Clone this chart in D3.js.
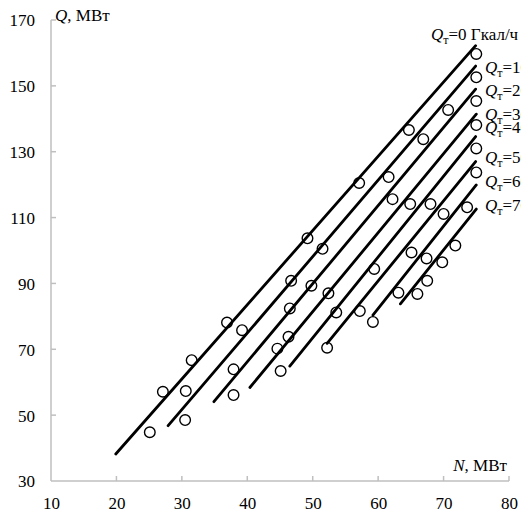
<!DOCTYPE html>
<html>
<head>
<meta charset="utf-8">
<script src="https://cdn.jsdelivr.net/npm/d3@7"></script>
<style>
  html, body { margin: 0; padding: 0; background: #fff; }
  svg { display: block; }
  text { font-family: "Liberation Serif", "Times New Roman", serif; fill: #000; }
</style>
</head>
<body>
<svg id="chart" width="521" height="514"></svg>
<script>
// ---- Data ----
const xTicks = [10, 20, 30, 40, 50, 60, 70, 80];
const yTicks = [30, 50, 70, 90, 110, 130, 150, 170];

// heat load labels (Gcal/h)
const heatLoads = [0, 10, 20, 30, 40, 50, 60, 70];

// straight characteristic lines: start (N, Q) and end (N, Q)
const lineStartN = [19.9, 27.9, 34.9, 40.4, 46.5, 52.2, 59.2, 63.4];
const lineStartQ = [38.2, 46.8, 54.1, 58.4, 64.9, 71.8, 80.4, 83.8];
const lineEndN   = [74.9, 74.9, 74.9, 75.0, 74.9, 74.9, 75.0, 75.0];
const lineEndQ   = [162.2, 156.0, 149.0, 141.4, 134.6, 127.0, 119.9, 112.6];

// label vertical positions (in Q units) for series labels at right
const labelQ = [165.7, 155.7, 148.7, 141.4, 137.4, 128.4, 121.1, 113.8];

// measured points
const pointN = [25.1, 27.1, 30.6, 30.5, 31.5, 36.9, 39.2, 37.9, 37.9,
                46.7, 49.2, 51.5, 49.8, 46.5, 46.3, 44.6, 45.1,
                52.4, 53.6, 52.2, 57.1, 57.2, 59.4, 59.2,
                61.6, 62.2, 64.9, 68.0, 70.0, 73.6,
                64.7, 66.9, 70.7,
                75.0, 75.0, 75.0, 75.0, 75.0, 75.0,
                65.1, 67.4, 69.8, 71.8, 67.5, 63.1, 66.0];
const pointQ = [44.8, 57.1, 57.3, 48.5, 66.7, 78.1, 75.8, 63.9, 56.1,
                90.8, 103.7, 100.5, 89.3, 82.4, 73.8, 70.2, 63.4,
                87.0, 81.2, 70.5, 120.5, 81.6, 94.4, 78.3,
                122.3, 115.6, 114.1, 114.1, 111.1, 113.1,
                136.6, 133.8, 142.7,
                159.7, 152.6, 145.4, 138.1, 131.0, 123.7,
                99.4, 97.6, 96.4, 101.5, 90.8, 87.2, 86.8];

// ---- Layout ----
const svg = d3.select("#chart");
const mLeft = 51, mRight = 509, mTop = 20, mBottom = 481;
const x = d3.scaleLinear().domain([10, 80]).range([mLeft, mRight]);
const y = d3.scaleLinear().domain([30, 170]).range([mBottom, mTop]);
const axisColor = "#bfbfbf";

// axes
const xAxis = d3.axisBottom(x).tickValues(xTicks).tickSize(0).tickFormat(d3.format("d"));
const gx = svg.append("g").attr("transform", `translate(0,${mBottom})`).call(xAxis);
gx.select(".domain").remove();
gx.selectAll("text").attr("font-size", 17).attr("dy", null).attr("y", 28)
  .attr("font-family", "Liberation Serif, serif");

const yAxis = d3.axisLeft(y).tickValues(yTicks).tickSize(0).tickFormat(d3.format("d"));
const gy = svg.append("g").attr("transform", `translate(${mLeft},0)`).call(yAxis);
gy.select(".domain").remove();
gy.selectAll("text").attr("font-size", 17).attr("x", -16).attr("dy", "0.35em")
  .attr("font-family", "Liberation Serif, serif");

// axis lines + inward ticks
svg.append("line").attr("x1", mLeft).attr("x2", mLeft).attr("y1", y(170)).attr("y2", y(30))
  .attr("stroke", axisColor).attr("stroke-width", 1.5);
svg.append("line").attr("x1", mLeft).attr("x2", x(80)).attr("y1", y(30)).attr("y2", y(30))
  .attr("stroke", axisColor).attr("stroke-width", 1.5);
svg.append("g").selectAll("line").data(yTicks.slice(1)).join("line")
  .attr("x1", mLeft).attr("x2", mLeft + 5).attr("y1", d => y(d)).attr("y2", d => y(d))
  .attr("stroke", axisColor).attr("stroke-width", 1.5);
svg.append("g").selectAll("line").data(xTicks.slice(1)).join("line")
  .attr("x1", d => x(d)).attr("x2", d => x(d)).attr("y1", mBottom).attr("y2", mBottom - 5)
  .attr("stroke", axisColor).attr("stroke-width", 1.5);

// lines
const lineGen = d3.line().x(d => x(d[0])).y(d => y(d[1]));
const lines = heatLoads.map((h, i) => [[lineStartN[i], lineStartQ[i]], [lineEndN[i], lineEndQ[i]]]);
svg.append("g").selectAll("path").data(lines).join("path")
  .attr("d", lineGen).attr("fill", "none").attr("stroke", "#000")
  .attr("stroke-width", 2.8).attr("stroke-linecap", "round");

// points
svg.append("g").selectAll("circle").data(pointN.map((n, i) => [n, pointQ[i]])).join("circle")
  .attr("cx", d => x(d[0])).attr("cy", d => y(d[1])).attr("r", 5.3)
  .attr("fill", "none").attr("stroke", "#000").attr("stroke-width", 1.4);

// series labels
const lab = svg.append("g");
heatLoads.forEach((h, i) => {
  const t = lab.append("text")
    .attr("x", i === 0 ? 431 : 485)
    .attr("y", y(labelQ[i]))
    .attr("dy", "0.35em")
    .attr("font-size", 17);
  t.append("tspan").attr("font-style", "italic").text("Q");
  t.append("tspan").attr("font-size", 12).attr("dy", 4).text("т");
  t.append("tspan").attr("dy", -4).text("=" + h + (i === 0 ? " Гкал/ч" : ""));
});

// axis titles
const yt = svg.append("text").attr("x", 55).attr("y", 15).attr("dy", "0.35em").attr("font-size", 17);
yt.append("tspan").attr("font-style", "italic").text("Q");
yt.append("tspan").text(", МВт");

const xt = svg.append("text").attr("x", 507).attr("y", 465).attr("dy", "0.35em")
  .attr("font-size", 17).attr("text-anchor", "end");
xt.append("tspan").attr("font-style", "italic").text("N");
xt.append("tspan").text(", МВт");
</script>
</body>
</html>
